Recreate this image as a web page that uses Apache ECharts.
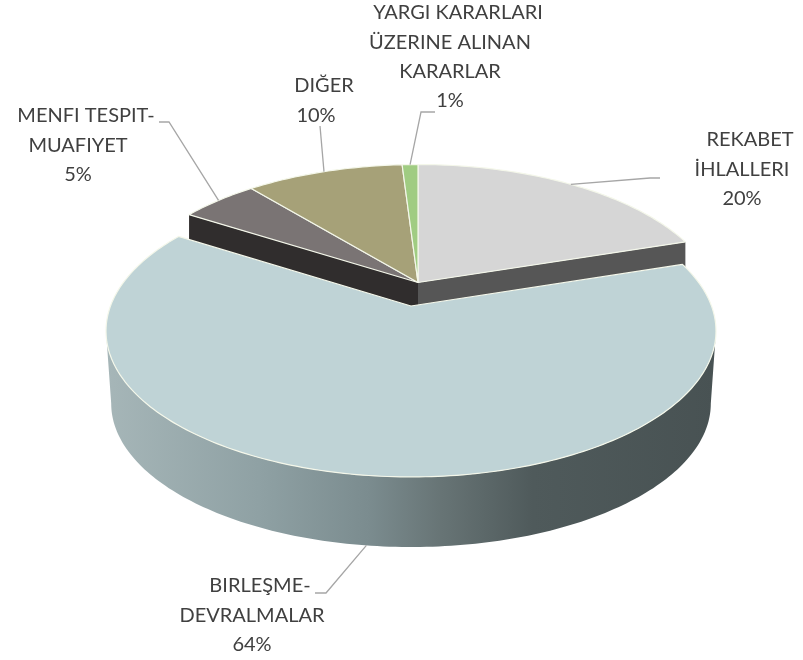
<!DOCTYPE html>
<html>
<head>
<meta charset="utf-8">
<script src="https://cdn.jsdelivr.net/npm/echarts@6/dist/echarts.min.js"></script>
<style>
  html, body { margin: 0; padding: 0; background: #fff; }
  #pie3d { width: 803px; height: 660px; }
</style>
</head>
<body>
<div id="pie3d"></div>
<script>
    // data, clockwise from 12 o'clock
    const categories = ["REKABET İHLALLERI", "BIRLEŞME-DEVRALMALAR", "MENFI TESPIT-MUAFIYET", "DIĞER", "YARGI KARARLARI ÜZERINE ALINAN KARARLAR"];
    const values = [20, 64, 5, 10, 1];
    const labelLines = [
        ["REKABET", "İHLALLERI"],
        ["BIRLEŞME-", "DEVRALMALAR"],
        ["MENFI TESPIT-", "MUAFIYET"],
        ["DIĞER"],
        ["YARGI KARARLARI", "ÜZERINE ALINAN", "KARARLAR"]
    ];
    const topColors = ["#d6d6d6", "#bfd3d6", "#7a7474", "#a6a178", "#a0cc82"];
    const wallColors = ["#565656", null, "#302d2d", null, null];

    // layout of the fake 3d pie
    const explodedIndex = 1;
    const radiusX = 300.5, radiusY = 141.7, tilt = -0.171;
    const depth = 73, depthScale = 0.983;
    const apexMain = { x: 418, y: 282.5, xScale: 0.985, yScale: 0.975 };
    const apexExploded = { x: 411, y: 306, xScale: 1, yScale: 1 };

    // center x and y of the first line of each label, leader line bend points
    const labelBoxes = [
        { x: 742, y: 140, leader: [[650, 178], [660, 178]] },
        { x: 252, y: 586, leader: [[326, 593], [315, 593]] },
        { x: 78, y: 116, leader: [[169, 122], [159, 122]] },
        { x: 316, y: 86, leader: [[320, 126]] },
        { x: 450, y: 13, leader: [[421, 112], [435, 112]] }
    ];
    const lineHeight = 29.2;
    const firstLineShift = 8;

    const total = values.reduce((a, b) => a + b, 0);
    // where the rim of the pie is widest on screen, left and right
    const silhouetteAngle = Math.acos(tilt) * 180 / Math.PI;

    function project(deg, apex, bottom) {
        const t = deg * Math.PI / 180;
        const u = Math.sin(t), v = -Math.cos(t);
        const den = 1 + tilt * v;
        const s = bottom ? depthScale : 1;
        return [
            apex.x + s * apex.xScale * radiusX * u / den,
            apex.y + (bottom ? depth : 0) + s * apex.yScale * radiusY * v / den
        ];
    }

    function arc(from, to, apex, bottom) {
        const pts = [];
        const n = Math.max(2, Math.ceil(Math.abs(to - from)));
        for (let i = 0; i <= n; i++) {
            pts.push(project(from + (to - from) * i / n, apex, bottom));
        }
        return pts;
    }

    function renderSlice(params, api) {
        const i = params.dataIndex;
        const value = api.value(0);
        let before = 0;
        for (let k = 0; k < i; k++) before += values[k];
        const start = before / total * 360;
        const end = (before + value) / total * 360;
        const mid = (start + end) / 2;
        const exploded = i === explodedIndex;
        const apex = exploded ? apexExploded : apexMain;
        const children = [];

        if (exploded) {
            // outer wall, seen at the front only
            const a0 = Math.max(start, silhouetteAngle);
            const a1 = Math.min(end, 360 - silhouetteAngle);
            const wall = arc(a0, a1, apex, false).concat(arc(a1, a0, apex, true));
            children.push({
                type: "polygon",
                z2: 3,
                shape: { points: wall },
                style: {
                    fill: new echarts.graphic.LinearGradient(0, 0, 1, 0, [
                        { offset: 0, color: "#a6b6b8" },
                        { offset: 0.25, color: "#8fa1a4" },
                        { offset: 0.43, color: "#7b8c8f" },
                        { offset: 0.55, color: "#677475" },
                        { offset: 0.7, color: "#4f5a5b" },
                        { offset: 1, color: "#485253" }
                    ])
                }
            });
        } else if (wallColors[i]) {
            // cut faces of the slices behind the big one
            [start, end].forEach(a => {
                const p = project(a, apex, false);
                children.push({
                    type: "polygon",
                    z2: 1,
                    shape: { points: [[apex.x, apex.y], p, [p[0], p[1] + depth], [apex.x, apex.y + depth]] },
                    style: { fill: wallColors[i] }
                });
            });
        }

        // top face
        children.push({
            type: "polygon",
            z2: exploded ? 5 : 2,
            shape: { points: [[apex.x, apex.y]].concat(arc(start, end, apex, false)) },
            style: { fill: topColors[i], stroke: "#f4f7ea", lineWidth: 1.2, lineJoin: "round" }
        });

        // leader line starts on the middle of the slice edge
        const box = labelBoxes[i];
        const anchor = project(mid, apex, exploded);
        children.push({
            type: "polyline",
            z2: 6,
            shape: { points: [anchor].concat(box.leader) },
            style: { fill: null, stroke: "#a6a6a6", lineWidth: 1.3 }
        });

        // label text, percent goes on the last line
        labelLines[i].concat([value + "%"]).forEach((line, k) => {
            children.push({
                type: "text",
                z2: 7,
                style: {
                    text: line,
                    x: box.x + (k === 0 ? firstLineShift : 0),
                    y: box.y + k * lineHeight,
                    fill: "#404040",
                    font: "20px Lato",
                    align: "center",
                    verticalAlign: "middle"
                }
            });
        });

        return { type: "group", children: children };
    }

    const myChart = echarts.init(document.getElementById("pie3d"));
    myChart.setOption({
        backgroundColor: "#fff",
        animation: false,
        series: [
            {
                type: "custom",
                coordinateSystem: "none",
                silent: true,
                renderItem: renderSlice,
                data: values.map((v, i) => ({ name: categories[i], value: [v] }))
            }
        ]
    });
</script>
</body>
</html>
